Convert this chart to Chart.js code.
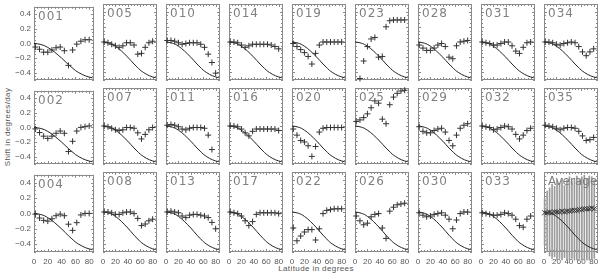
<!DOCTYPE html>
<html><head><meta charset="utf-8">
<script src="https://cdn.jsdelivr.net/npm/chart.js@4"></script>
<style>
html,body{margin:0;padding:0;background:#fff;width:600px;height:274px;overflow:hidden;position:relative;}
canvas{position:absolute;}
.t{position:absolute;font-family:"Liberation Sans",sans-serif;font-size:8px;color:#555;white-space:nowrap;letter-spacing:0.4px;}
</style></head><body>
<div class="t" id="ytitle" style="left:7px;top:127px;transform:translate(-50%,-50%) rotate(-90deg);">Shift in degrees/day</div>
<div class="t" id="xtitle" style="left:316px;top:268px;transform:translate(-50%,-50%);">Latitude in degrees</div>
<script>
// ---- data ----
const panelRows = [
  ["001","005","010","014","019","023","028","031","034"],
  ["002","007","011","016","020","025","029","032","035"],
  ["004","008","013","017","022","026","030","033","Average"]
];
const lat = [2,8,14,20,26,32,38,44,50,56,62,68,74,80];
const s001 = [-0.05,-0.08,-0.12,-0.12,-0.09,-0.06,-0.05,-0.10,-0.30,-0.09,-0.01,0.03,0.05,0.05];
const s005 = [0.0,-0.01,-0.03,-0.05,-0.07,-0.05,-0.01,-0.01,-0.04,-0.16,-0.15,-0.07,-0.01,0.01];
const s010 = [0.02,0.02,0.01,-0.01,-0.03,-0.02,-0.01,-0.01,-0.01,-0.03,-0.07,-0.16,-0.27,-0.41];
const s014 = [0.0,0.0,-0.01,-0.04,-0.07,-0.05,-0.03,-0.03,-0.03,-0.03,-0.03,-0.04,-0.06,-0.09];
const s019 = [-0.02,-0.06,-0.10,-0.14,-0.19,-0.29,-0.15,-0.04,0.0,0.0,0.0,0.0,0.0,0.0];
const s023 = [null,-0.48,-0.25,-0.06,0.04,0.06,-0.20,-0.19,0.20,0.28,0.29,0.29,0.29,0.29];
const s028 = [-0.04,-0.08,-0.11,-0.11,-0.08,-0.04,-0.02,-0.06,-0.20,-0.22,-0.05,0.0,0.01,0.02];
const s031 = [0.0,-0.01,-0.02,-0.04,-0.04,-0.02,0.0,0.0,-0.05,-0.12,-0.15,-0.07,-0.01,0.0];
const s034 = [0.0,0.0,-0.01,-0.03,-0.04,-0.02,-0.01,0.0,-0.01,-0.06,-0.13,-0.18,-0.13,-0.09];
const s002 = [-0.02,-0.07,-0.12,-0.15,-0.12,-0.08,-0.05,-0.08,-0.33,-0.19,-0.05,0.0,0.01,0.02];
const s007 = [0.0,-0.01,-0.03,-0.05,-0.06,-0.05,-0.02,-0.02,-0.03,-0.09,-0.17,-0.11,-0.05,-0.02];
const s011 = [0.01,0.02,0.01,-0.01,-0.04,-0.05,-0.03,-0.02,-0.02,-0.02,-0.03,-0.12,-0.31,null];
const s016 = [0.0,0.0,-0.01,-0.04,-0.09,-0.13,-0.07,-0.04,-0.04,-0.04,-0.04,-0.04,-0.04,-0.06];
const s020 = [-0.04,-0.12,-0.19,-0.21,-0.26,-0.40,-0.27,-0.08,-0.03,-0.02,-0.02,-0.02,-0.02,-0.02];
const s025 = [0.06,0.08,0.11,0.16,0.24,0.33,0.30,0.09,0.03,0.28,0.38,0.43,0.46,0.47];
const s029 = [-0.01,-0.07,-0.09,-0.09,-0.06,-0.04,-0.03,-0.08,-0.19,-0.26,-0.12,-0.03,0.01,0.03];
const s032 = [0.0,-0.01,-0.02,-0.05,-0.04,-0.02,0.0,-0.01,-0.04,-0.11,-0.17,-0.12,-0.06,-0.03];
const s035 = [0.01,0.0,-0.01,-0.03,-0.05,-0.03,-0.02,-0.02,-0.03,-0.07,-0.13,-0.19,-0.18,-0.15];
const s004 = [-0.01,-0.06,-0.09,-0.10,-0.07,-0.03,-0.01,-0.03,-0.14,-0.22,-0.12,-0.02,0.0,0.0];
const s008 = [0.0,0.0,-0.01,-0.03,-0.03,-0.01,0.0,0.0,-0.02,-0.08,-0.17,-0.15,-0.11,-0.09];
const s013 = [0.0,0.01,0.0,-0.01,-0.05,-0.07,-0.04,-0.03,-0.03,-0.04,-0.05,-0.07,-0.13,-0.21];
const s017 = [0.0,-0.01,-0.02,-0.05,-0.11,-0.17,-0.12,-0.03,-0.01,-0.01,-0.01,-0.01,-0.01,-0.02];
const s022 = [-0.20,-0.36,-0.30,-0.25,-0.22,-0.22,-0.35,-0.21,-0.02,0.02,0.03,0.04,0.04,0.04];
const s026 = [-0.05,-0.11,-0.16,-0.14,-0.06,-0.03,-0.02,-0.20,-0.33,0.01,0.06,0.09,0.10,0.11];
const s030 = [-0.01,-0.04,-0.06,-0.05,-0.03,-0.02,-0.01,-0.04,-0.09,-0.21,-0.10,-0.02,0.0,0.0];
const s033 = [-0.01,-0.02,-0.03,-0.04,-0.04,-0.03,-0.01,-0.02,-0.04,-0.09,-0.17,-0.19,-0.09,-0.05];
const series = {"001":s001,"005":s005,"010":s010,"014":s014,"019":s019,"023":s023,"028":s028,"031":s031,"034":s034,
  "002":s002,"007":s007,"011":s011,"016":s016,"020":s020,"025":s025,"029":s029,"032":s032,"035":s035,
  "004":s004,"008":s008,"013":s013,"017":s017,"022":s022,"026":s026,"030":s030,"033":s033};

const avgLat = [1,5,9,13,17,21,25,29,33,37,41,45,49,53,57,61,65,69,73,77,81];
const avgVal = [-0.01,-0.01,0.0,-0.01,0.0,0.0,0.0,0.01,0.0,0.01,0.01,0.02,0.02,0.02,0.03,0.03,0.04,0.04,0.04,0.05,0.04];
const avgHi = [0.17,0.26,0.30,0.35,0.32,0.40,0.36,0.42,0.33,0.40,0.44,0.38,0.42,0.45,0.40,0.44,0.46,0.42,0.45,0.44,0.40];
const avgLo = [-0.42,-0.50,-0.55,-0.58,-0.56,-0.60,-0.58,-0.60,-0.57,-0.60,-0.60,-0.58,-0.60,-0.60,-0.58,-0.60,-0.60,-0.60,-0.60,-0.60,-0.58];

const curveLat = [0,5,10,15,20,25,30,35,40,45,50,55,60,65,70,75,80,85];
const curveVal = [0.0,-0.005,-0.015,-0.03,-0.055,-0.085,-0.12,-0.16,-0.20,-0.245,-0.29,-0.33,-0.37,-0.40,-0.425,-0.445,-0.46,-0.47];

const xTicks = [0,20,40,60,80];
const yTicks = [-0.4,-0.2,0.0,0.2,0.4];

// ---- layout / style ----
const XMIN = 0, XMAX = 87, YMIN = -0.5, YMAX = 0.5;
const rowTop = [3, 87, 171];
const PW = 60, PH = 81, COL0 = 34, CPITCH = 63;
const FRAME = '#8a8a8a', TEXT = '#555';
Chart.defaults.font.family = '"Liberation Sans", sans-serif';
Chart.defaults.font.size = 8;
Chart.defaults.color = TEXT;

const framePlugin = {
  id: 'frame',
  beforeDatasetsDraw(chart, args, opts) {
    const {ctx, chartArea: a, scales: {x, y}} = chart;
    ctx.save();
    ctx.strokeStyle = FRAME; ctx.lineWidth = 1;
    ctx.strokeRect(Math.round(a.left) + 0.5, Math.round(a.top) + 0.5, Math.round(a.width) - 1, Math.round(a.height) - 1);
    ctx.beginPath();
    for (let v = XMIN; v <= XMAX; v += 5) {
      const px = Math.round(x.getPixelForValue(v)) + 0.5;
      const len = (v % 20 === 0) ? 3 : 2;
      ctx.moveTo(px, a.top); ctx.lineTo(px, a.top + len);
      ctx.moveTo(px, a.bottom); ctx.lineTo(px, a.bottom - len);
    }
    for (let k = -10; k <= 10; k++) {
      const v = k * 0.05;
      const py = Math.round(y.getPixelForValue(v)) + 0.5;
      const len = (k % 4 === 0) ? 3 : 2;
      ctx.moveTo(a.left, py); ctx.lineTo(a.left + len, py);
      ctx.moveTo(a.right, py); ctx.lineTo(a.right - len, py);
    }
    ctx.stroke();
    ctx.restore();
  },
  afterDatasetsDraw(chart, args, opts) {
    const {ctx, chartArea: a} = chart;
    ctx.save();
    ctx.fillStyle = '#808080';
    ctx.font = '12px "DejaVu Sans", sans-serif';
    if ('letterSpacing' in ctx) ctx.letterSpacing = /^\d+$/.test(opts.label) ? '1px' : '0px';
    ctx.textBaseline = 'top';
    ctx.fillText(opts.label, a.left + 4, a.top + 4);
    ctx.restore();
  }
};

function makePanel(r, c, name) {
  const L = COL0 + CPITCH * c, T = rowTop[r];
  const padL = c === 0 ? 34 : 6, padR = 6, padT = 4, padB = r === 2 ? 22 : 4;
  const cv = document.createElement('canvas');
  const W = PW + padL + padR, H = PH + padT + padB;
  cv.width = W; cv.height = H;
  cv.style.left = (L - padL) + 'px'; cv.style.top = (T - padT) + 'px';
  cv.style.width = W + 'px'; cv.style.height = H + 'px';
  document.body.appendChild(cv);

  const isAvg = name === 'Average';
  const datasets = [];
  if (isAvg) {
    datasets.push({
      type: 'bar',
      data: avgLat.map((x, i) => ({x: x, y: [avgLo[i], avgHi[i]]})),
      backgroundColor: '#9a9a9a', barThickness: 1, grouped: false, clip: false, order: 3
    });
  }
  datasets.push({
    type: 'scatter',
    data: curveLat.map((x, i) => ({x: x, y: curveVal[i]})),
    showLine: true, pointRadius: 0, borderColor: '#222', borderWidth: 1,
    cubicInterpolationMode: 'monotone', clip: false, order: 2
  });
  const xs = isAvg ? avgLat : lat;
  const vs = isAvg ? avgVal : series[name];
  datasets.push({
    type: 'scatter',
    data: xs.map((x, i) => ({x: x, y: vs[i]})),
    pointStyle: isAvg ? 'crossRot' : 'cross',
    pointRadius: isAvg ? 3.5 : 3, borderColor: '#333', borderWidth: 1,
    showLine: false, clip: false, order: 1
  });

  new Chart(cv, {
    type: 'scatter',
    data: {datasets: datasets},
    options: {
      responsive: false, animation: false, devicePixelRatio: 1,
      layout: {padding: {left: c === 0 ? 0 : padL, right: padR, top: padT, bottom: r === 2 ? 0 : padB}},
      scales: {
        x: {
          type: 'linear', min: XMIN, max: XMAX, offset: false, display: r === 2,
          grid: {display: false, drawTicks: false, offset: false}, border: {display: false},
          afterBuildTicks: s => { s.ticks = xTicks.map(v => ({value: v})); },
          afterFit: s => { s.height = padB; },
          ticks: {padding: 5, maxRotation: 0, autoSkip: false, color: TEXT, font: {size: 8}}
        },
        y: {
          type: 'linear', min: YMIN, max: YMAX, display: c === 0,
          grid: {display: false, drawTicks: false}, border: {display: false},
          afterBuildTicks: s => { s.ticks = yTicks.map(v => ({value: v})); },
          afterFit: s => { s.width = padL; },
          ticks: {padding: 3, color: TEXT, font: {size: 8},
            callback: v => v.toFixed(1).replace('-', '\u2212')}
        }
      },
      plugins: {legend: {display: false}, tooltip: {enabled: false}, frame: {label: name}}
    },
    plugins: [framePlugin]
  });
}

panelRows.forEach((row, r) => row.forEach((name, c) => makePanel(r, c, name)));
</script>
</body></html>
